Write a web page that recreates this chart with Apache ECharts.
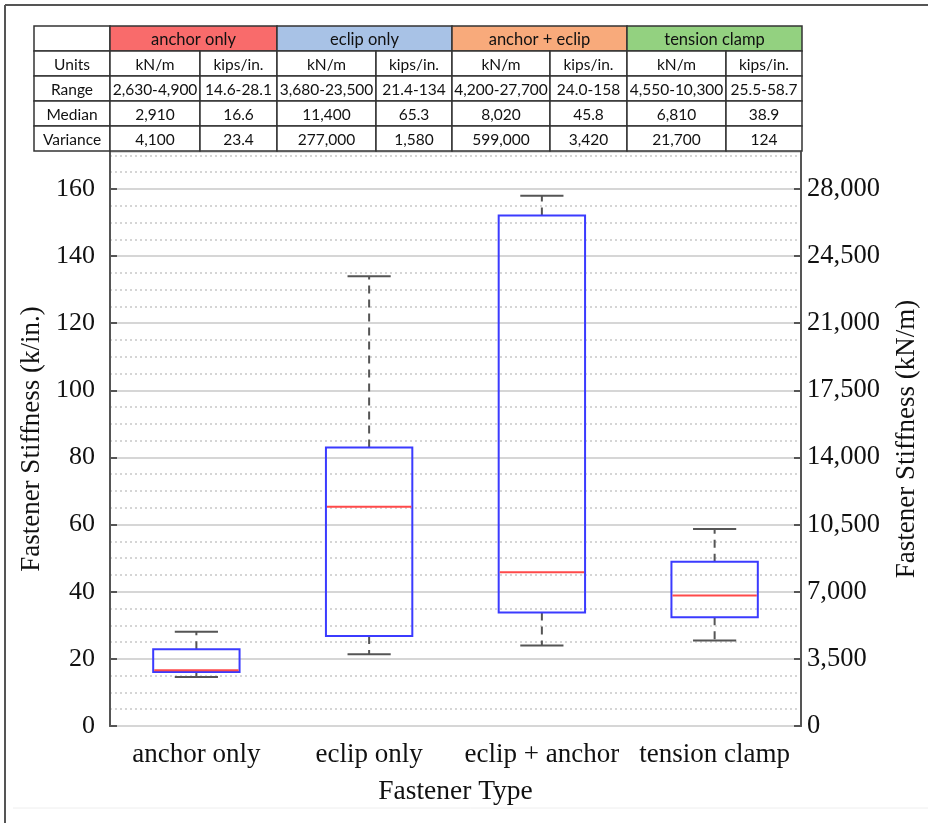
<!DOCTYPE html>
<html>
<head>
<meta charset="utf-8">
<script src="https://cdn.jsdelivr.net/npm/echarts@6/dist/echarts.min.js"></script>
<style>
  html, body { margin: 0; padding: 0; background: #fff; }
  #chart { width: 928px; height: 823px; }
</style>
</head>
<body>
<div id="chart"></div>
<script>
// box plot values (k/in.)
const categories = ['anchor only', 'eclip only', 'eclip + anchor', 'tension clamp'];
const minVals = [14.6, 21.4, 24.0, 25.5];
const q1Vals = [16.1, 26.8, 33.8, 32.4];
const medVals = [16.6, 65.3, 45.8, 38.9];
const q3Vals = [22.9, 83.0, 152.1, 48.9];
const maxVals = [28.1, 134, 158, 58.7];

// summary table
const tableGroups = ['anchor only', 'eclip only', 'anchor + eclip', 'tension clamp'];
const groupColors = ['#f96b6b', '#a8c2e6', '#f8aa7b', '#93d180'];
const rowNames = ['Units', 'Range', 'Median', 'Variance'];
const unitsRow = ['kN/m', 'kips/in.', 'kN/m', 'kips/in.', 'kN/m', 'kips/in.', 'kN/m', 'kips/in.'];
const rangeRow = ['2,630-4,900', '14.6-28.1', '3,680-23,500', '21.4-134', '4,200-27,700', '24.0-158', '4,550-10,300', '25.5-58.7'];
const medianRow = ['2,910', '16.6', '11,400', '65.3', '8,020', '45.8', '6,810', '38.9'];
const varianceRow = ['4,100', '23.4', '277,000', '1,580', '599,000', '3,420', '21,700', '124'];

const kipsMax = 171;
const knRatio = 175; // kN/m per k/in. on the right axis

// table layout
const colX = [34, 110, 200, 277, 376, 452, 550, 627, 726, 802];
const rowY = [26, 51, 76, 101, 126, 151];
const tableFont = '15.5px Lato, "Open Sans", sans-serif';
const headFont = '16.5px Lato, "Open Sans", sans-serif';

const graphics = [];
// frame
graphics.push({ type: 'line', shape: { x1: 5, y1: 5, x2: 928, y2: 5 }, style: { stroke: '#555', lineWidth: 2 } });
graphics.push({ type: 'line', shape: { x1: 5, y1: 5, x2: 5, y2: 823 }, style: { stroke: '#555', lineWidth: 2 } });
graphics.push({ type: 'line', shape: { x1: 13, y1: 808, x2: 928, y2: 808 }, style: { stroke: '#eee', lineWidth: 1 } });

function cell(x1, x2, y1, y2, text, fill, font) {
  graphics.push({
    type: 'rect', z: 10,
    shape: { x: x1, y: y1, width: x2 - x1, height: y2 - y1 },
    style: { fill: fill || '#fff', stroke: '#333', lineWidth: 1.5 }
  });
  graphics.push({
    type: 'text', z: 11, x: (x1 + x2) / 2, y: (y1 + y2) / 2 + 1,
    style: { text: text, fill: '#111', font: font || tableFont, align: 'center', verticalAlign: 'middle' }
  });
}

cell(colX[0], colX[1], rowY[0], rowY[1], '');
tableGroups.forEach((g, i) => {
  cell(colX[1 + i * 2], colX[3 + i * 2], rowY[0], rowY[1], g, groupColors[i], headFont);
});
[unitsRow, rangeRow, medianRow, varianceRow].forEach((row, r) => {
  cell(colX[0], colX[1], rowY[r + 1], rowY[r + 2], rowNames[r]);
  row.forEach((v, c) => cell(colX[c + 1], colX[c + 2], rowY[r + 1], rowY[r + 2], v));
});

const boxData = categories.map((c, i) => [i, minVals[i], q1Vals[i], medVals[i], q3Vals[i], maxVals[i]]);

function renderBox(params, api) {
  const x = api.value(0);
  const pMin = api.coord([x, api.value(1)]);
  const pQ1 = api.coord([x, api.value(2)]);
  const pMed = api.coord([x, api.value(3)]);
  const pQ3 = api.coord([x, api.value(4)]);
  const pMax = api.coord([x, api.value(5)]);
  const band = api.size([1, 0])[0];
  const bw = band * 0.5;
  const cw = band * 0.25;
  const cx = pMed[0];
  const grey = '#555';
  return {
    type: 'group',
    children: [
      { type: 'line', shape: { x1: cx, y1: pQ3[1], x2: cx, y2: pMax[1] }, style: { stroke: grey, lineWidth: 2, lineDash: [8, 6] } },
      { type: 'line', shape: { x1: cx, y1: pQ1[1], x2: cx, y2: pMin[1] }, style: { stroke: grey, lineWidth: 2, lineDash: [8, 6] } },
      { type: 'line', shape: { x1: cx - cw / 2, y1: pMax[1], x2: cx + cw / 2, y2: pMax[1] }, style: { stroke: grey, lineWidth: 2 } },
      { type: 'line', shape: { x1: cx - cw / 2, y1: pMin[1], x2: cx + cw / 2, y2: pMin[1] }, style: { stroke: grey, lineWidth: 2 } },
      { type: 'rect', shape: { x: cx - bw / 2, y: pQ3[1], width: bw, height: pQ1[1] - pQ3[1] }, style: { fill: 'none', stroke: '#3b3bff', lineWidth: 2 } },
      { type: 'line', shape: { x1: cx - bw / 2 + 1, y1: pMed[1], x2: cx + bw / 2 - 1, y2: pMed[1] }, style: { stroke: '#ff4a4a', lineWidth: 2 } }
    ]
  };
}

const serif = '"Liberation Serif", "DejaVu Serif", serif';
const axisGrey = '#555';

const chart = echarts.init(document.getElementById('chart'));
chart.setOption({
  animation: false,
  backgroundColor: '#fff',
  grid: { left: 110, right: 125, top: 152, bottom: 97 },
  graphic: graphics,
  xAxis: {
    type: 'category',
    data: categories,
    name: 'Fastener Type',
    nameLocation: 'middle',
    nameGap: 52,
    nameTextStyle: { fontFamily: serif, fontSize: 27.5, color: '#111' },
    axisLine: { lineStyle: { color: axisGrey, width: 2 } },
    axisTick: { inside: true, alignWithLabel: true, length: 8, lineStyle: { color: axisGrey, width: 2 } },
    axisLabel: { interval: 0, hideOverlap: false, fontFamily: serif, fontSize: 27, color: '#111', margin: 15 },
    splitLine: { show: false }
  },
  yAxis: [
    {
      type: 'value',
      min: 0, max: kipsMax, interval: 20,
      name: 'Fastener Stiffness (k/in.)',
      nameLocation: 'middle',
      nameGap: 60,
      nameRotate: 90,
      nameTextStyle: { fontFamily: serif, fontSize: 27, color: '#111' },
      axisLine: { show: true, lineStyle: { color: axisGrey, width: 2 } },
      axisTick: { show: true, inside: true, length: 7, lineStyle: { color: axisGrey, width: 2 } },
      axisLabel: {
        fontFamily: serif, fontSize: 26, color: '#111', margin: 15, showMaxLabel: false,
        formatter: v => (v % 20 === 0 ? String(v) : '')
      },
      splitLine: { show: true, lineStyle: { color: '#d6d6d6', width: 2 } },
      z: 2
    },
    {
      type: 'value',
      position: 'right',
      min: 0, max: kipsMax * knRatio, interval: 3500,
      name: 'Fastener Stiffness (kN/m)',
      nameLocation: 'middle',
      nameGap: 92,
      nameRotate: 90,
      nameTextStyle: { fontFamily: serif, fontSize: 27, color: '#111' },
      axisLine: { show: true, lineStyle: { color: axisGrey, width: 2 } },
      axisTick: { show: true, inside: true, length: 7, lineStyle: { color: axisGrey, width: 2 } },
      axisLabel: {
        fontFamily: serif, fontSize: 26.5, color: '#111', margin: 6, showMaxLabel: false,
        formatter: v => (v % 3500 === 0 ? v.toLocaleString('en-US') : '')
      },
      splitLine: { show: false },
      z: 2
    },
    {
      type: 'value',
      min: 0, max: kipsMax, interval: 5,
      axisLine: { show: false },
      axisTick: { show: false },
      axisLabel: { show: false },
      splitLine: { show: true, lineStyle: { color: '#c8c8c8', width: 1.5, type: [2, 3] } },
      z: 1
    }
  ],
  series: [{
    type: 'custom',
    renderItem: renderBox,
    data: boxData,
    encode: { x: 0, y: [1, 2, 3, 4, 5] },
    z: 5
  }]
});
</script>
</body>
</html>
